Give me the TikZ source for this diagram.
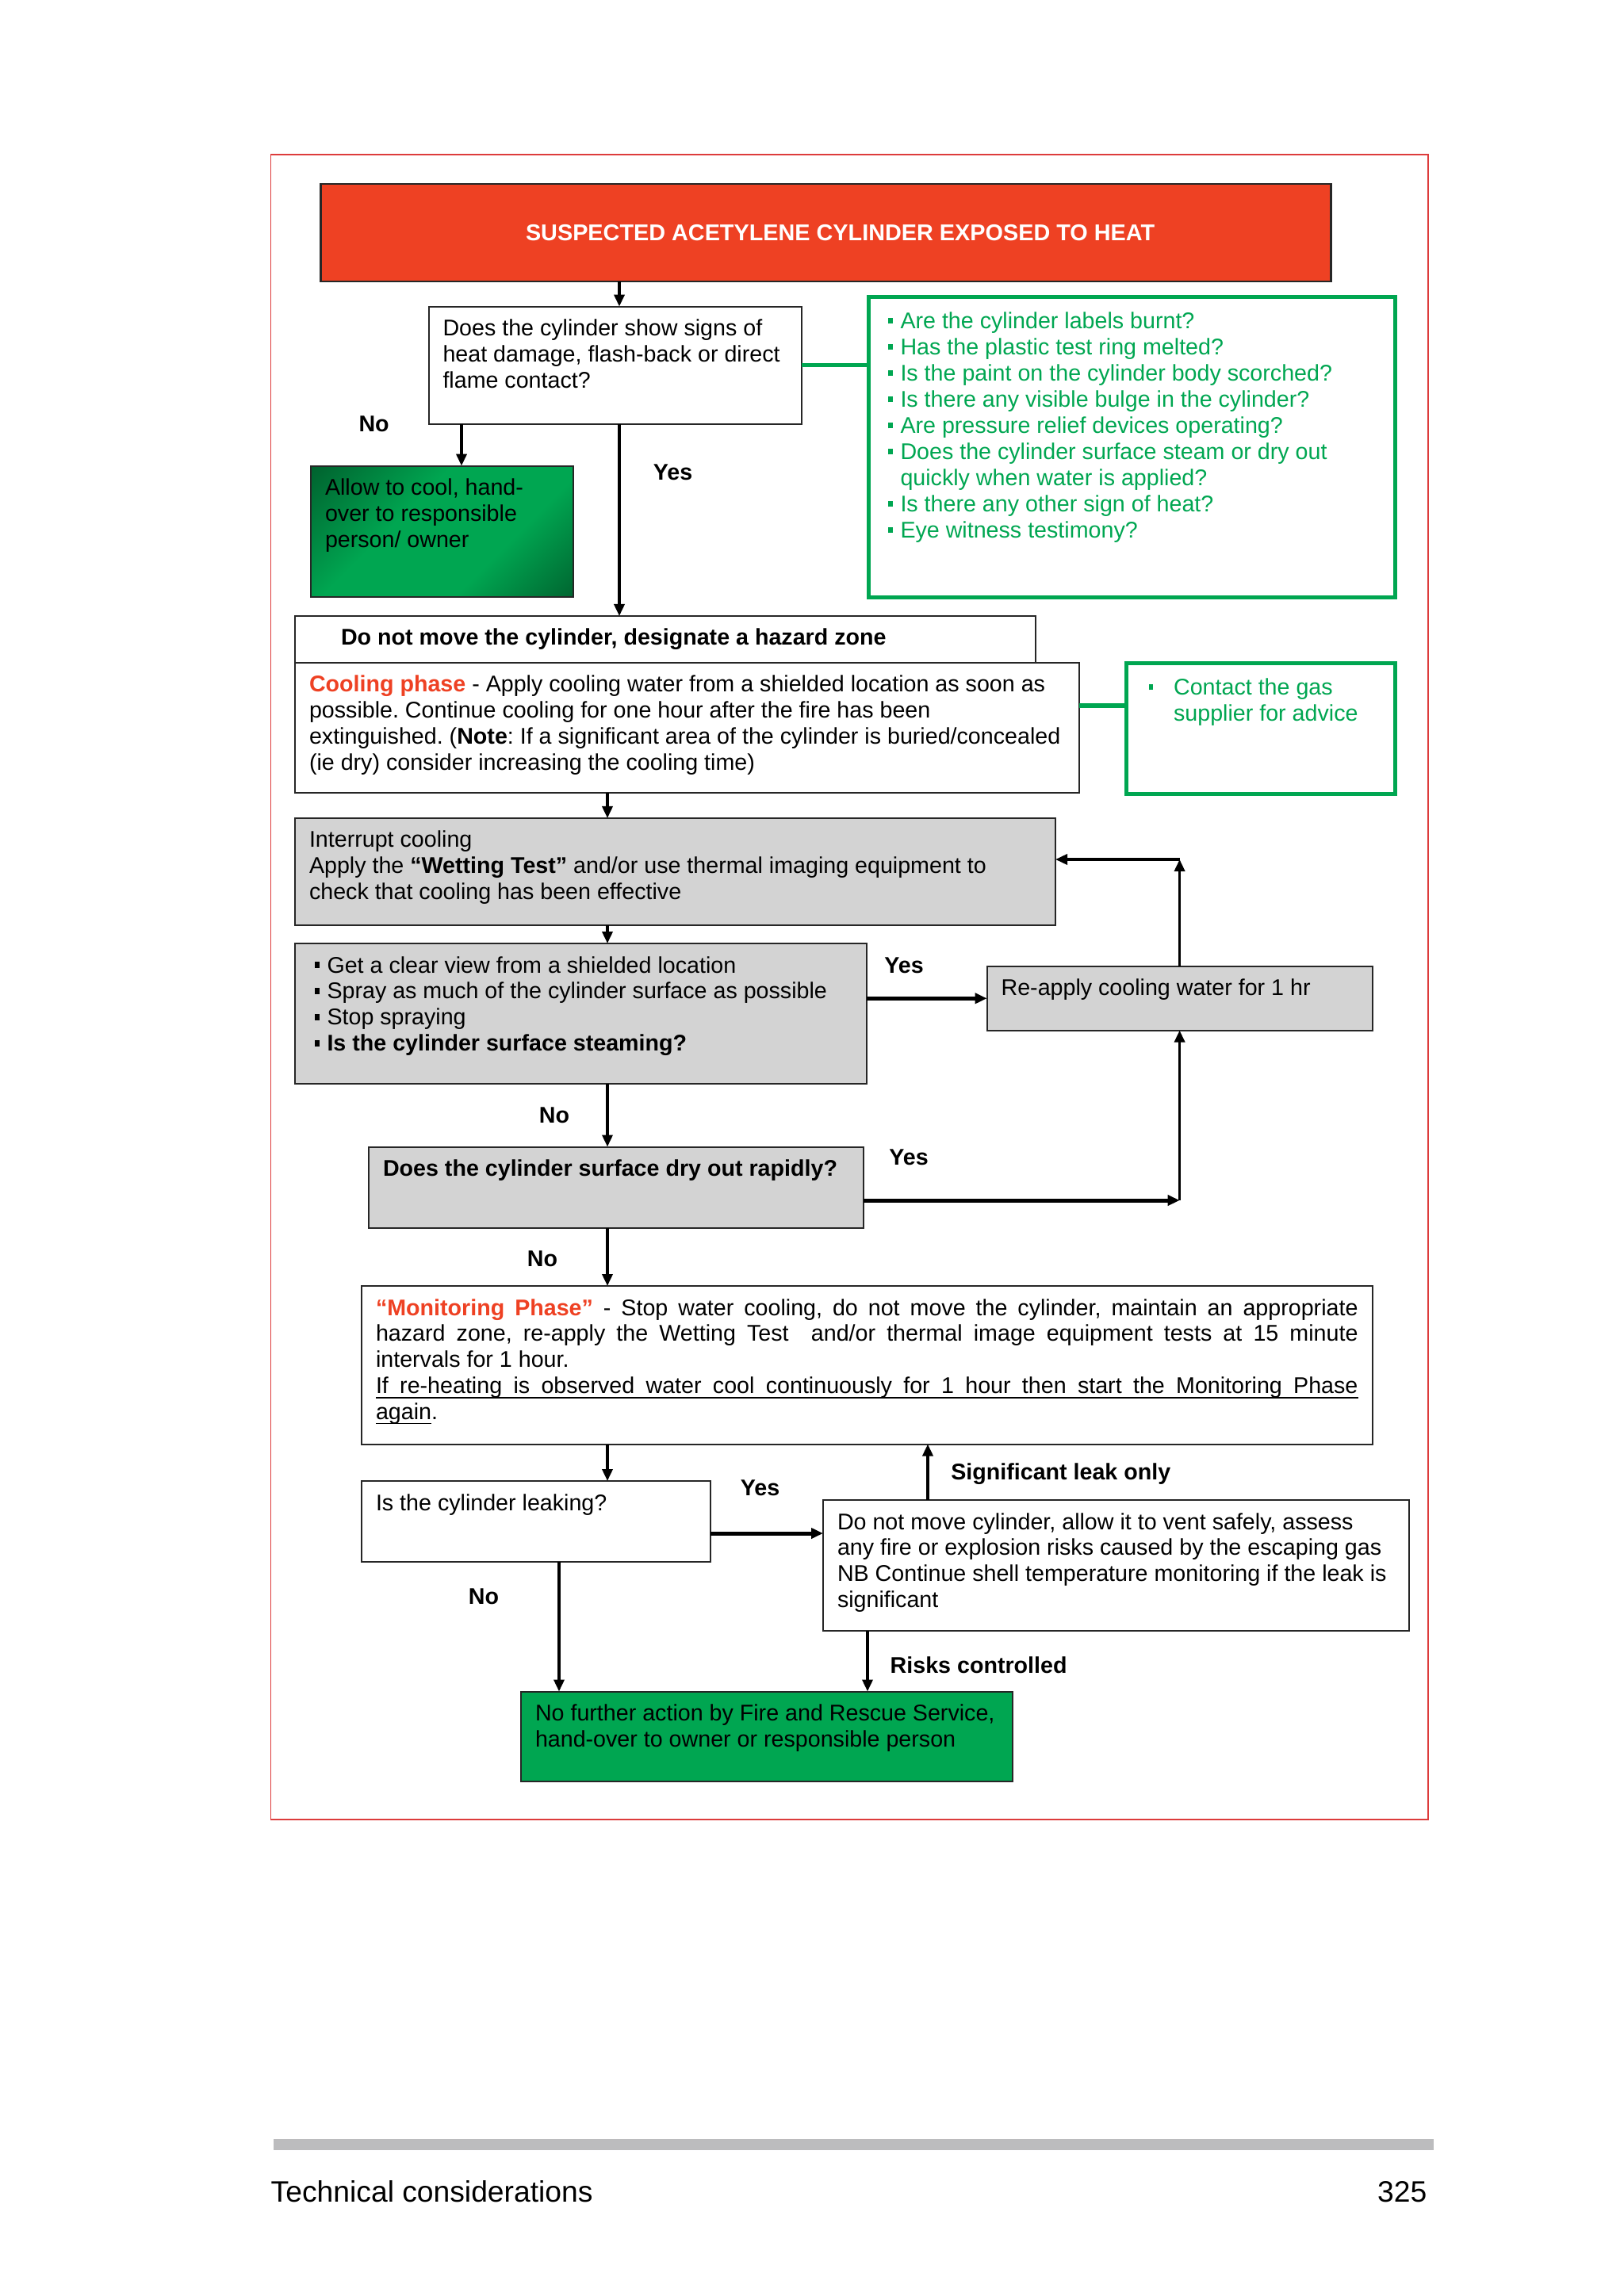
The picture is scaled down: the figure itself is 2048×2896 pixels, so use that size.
\documentclass[tikz,border=0pt]{standalone}
\usepackage{fontspec}
\setmainfont{Liberation Sans}
\usepackage{xcolor}
\usepackage{tikz}
\usetikzlibrary{positioning, arrows.meta, calc}
\definecolor{alertred}{RGB}{238,65,35}
\definecolor{safegreen}{RGB}{0,166,81}
\definecolor{deepgreen}{RGB}{0,58,26}
\definecolor{stepgrey}{RGB}{211,211,211}
\definecolor{framered}{RGB}{221,60,60}
\definecolor{footgrey}{RGB}{188,188,190}
\newcommand{\phaseword}[1]{{\color{alertred}\textbf{#1}}}
\newcommand{\sqb}{\hspace*{0.7mm}\rule[0.6mm]{0.55mm}{0.75mm}\hspace{1mm}}
\newcommand{\spreadline}[1]{\makebox[\linewidth][s]{#1}}
\pgfdeclarehorizontalshading{cornerfade}{100bp}{color(0bp)=(deepgreen); color(40bp)=(safegreen); color(64bp)=(safegreen); color(100bp)=(deepgreen)}
\tikzset{
    stepnode/.style   = {draw=black!85, line width=0.2mm, align=flush left, anchor=north west,
                         outer sep=0pt, inner xsep=1.8mm, inner ysep=1mm, text height=2.7mm,
                         font=\fontsize{8.15}{9.38}\selectfont},
    sized/.style 2 args = {text width=#1, text depth=#2},
    greynode/.style   = {stepnode, fill=stepgrey},
    checknode/.style  = {stepnode, draw=safegreen, line width=0.5mm, text=safegreen,
                         text height=2.95mm},
    shadenode/.style  = {stepnode, shade, shading=cornerfade, shading angle=-45},
    titlenode/.style  = {draw=black!85, line width=0.25mm, fill=alertred, text=white,
                         font=\fontsize{8.2}{9.38}\selectfont\bfseries, outer sep=0pt,
                         minimum width=127.4mm, minimum height=12.3mm, inner sep=0pt,
                         anchor=north west},
    flow/.style       = {line width=0.35mm, -{Triangle[length=1.5mm, width=1.3mm]}},
    flowthick/.style  = {flow, line width=0.5mm},
    greenedge/.style  = {safegreen, line width=0.55mm},
    answerlbl/.style  = {font=\fontsize{8.15}{9.38}\selectfont\bfseries, inner sep=0pt},
}
\frenchspacing
\begin{document}
\begin{tikzpicture}[x=0.1mm, y=-0.1mm]
\useasboundingbox (0,0) rectangle (2048,2896);

\draw[framered, line width=0.15mm] (341.5,195) rectangle (1801,2295);

\node[titlenode] (title) at (404.6,232)
    {\hspace*{3.6mm}SUSPECTED ACETYLENE CYLINDER EXPOSED TO HEAT};

\node[stepnode, below right=3.16mm and 13.59mm of title.south west, anchor=north west,
      sized={43.45mm}{10.11mm}] (q1)
    {Does the cylinder show signs of\\heat damage, flash-back or direct\\flame contact?};

\node[checknode, above right=1.16mm and 8.4mm of q1.north east, anchor=north west,
      sized={62.8mm}{32.95mm}] (checks)
    {\sqb Are the cylinder labels burnt?\\
     \sqb Has the plastic test ring melted?\\
     \sqb Is the paint on the cylinder body scorched?\\
     \sqb Is there any visible bulge in the cylinder?\\
     \sqb Are pressure relief devices operating?\\
     \sqb Does the cylinder surface steam or dry out\\
     \hspace*{2.25mm}quickly when water is applied?\\
     \sqb Is there any other sign of heat?\\
     \sqb Eye witness testimony?};

\node[shadenode, below left=5.29mm and 14.85mm of q1.south west, anchor=north west,
      sized={29.5mm}{11.84mm}] (allow)
    {Allow to cool, hand-\\over to responsible\\person/ owner};

\node[stepnode, below left=24.23mm and 16.85mm of q1.south west, anchor=north west,
      sized={89.8mm}{1.2mm}] (hazard)
    {\hspace*{4mm}\textbf{Do not move the cylinder, designate a hazard zone}};

\node[stepnode, below=0mm of hazard.south west, anchor=north west,
      sized={95.3mm}{11.74mm}] (cooling)
    {\phaseword{Cooling phase} - Apply cooling water from a shielded location as soon as\\
     possible. Continue cooling for one hour after the fire has been\\
     extinguished. (\textbf{Note}: If a significant area of the cylinder is buried/concealed\\
     (ie dry) consider increasing the cooling time)};

\node[checknode, below right=0.1mm and 5.96mm of cooling.north east, anchor=north west,
      sized={30.24mm}{11.55mm}] (contact)
    {\hspace*{0.3mm}\sqb\hspace{1.6mm}Contact the gas\\\hspace*{4.15mm}supplier for advice};

\node[greynode, below=3.16mm of cooling.south west, anchor=north west,
      sized={92.3mm}{8.75mm}] (interrupt)
    {Interrupt cooling\\
     Apply the \textbf{“Wetting Test”} and/or use thermal imaging equipment to\\
     check that cooling has been effective};

\node[greynode, below=2.35mm of interrupt.south west, anchor=north west,
      sized={68.45mm}{12.96mm}] (spray)
    {\sqb Get a clear view from a shielded location\\
     \sqb Spray as much of the cylinder surface as possible\\
     \sqb Stop spraying\\
     \textbf{\sqb Is the cylinder surface steaming?}};

\node[greynode, below right=2.9mm and 15.21mm of spray.north east, anchor=north west,
      sized={45mm}{3.36mm}] (reapply)
    {Re-apply cooling water for 1 hr};

\node[greynode, below right=7.99mm and 9.3mm of spray.south west, anchor=north west,
      sized={58.76mm}{5.53mm}] (dry)
    {\textbf{Does the cylinder surface dry out rapidly?}};

\node[stepnode, below left=7.32mm and 0.9mm of dry.south west, anchor=north west,
      sized={123.86mm}{15.25mm}] (monitor)
    {\spreadline{\phaseword{“Monitoring Phase”} - Stop water cooling, do not move the cylinder, maintain an appropriate}\\
     \spreadline{hazard zone, re-apply the Wetting Test\ \ and/or thermal image equipment tests at 15 minute}\\
     intervals for 1 hour.\\
     \underline{\smash{\spreadline{If re-heating is observed water cool continuously for 1 hour then start the Monitoring Phase}}}\\
     \underline{\smash{again}}.};

\node[stepnode, below=4.65mm of monitor.south west, anchor=north west,
      sized={40.4mm}{5.46mm}] (leak)
    {Is the cylinder leaking?};

\node[stepnode, below right=2.4mm and 14.2mm of leak.north east, anchor=north west,
      sized={70.25mm}{11.8mm}] (vent)
    {Do not move cylinder, allow it to vent safely, assess\\
     any fire or explosion risks caused by the escaping gas\\
     NB Continue shell temperature monitoring if the leak is\\
     significant};

\node[stepnode, fill=safegreen, below right=16.39mm and 20.1mm of leak.south west,
      anchor=north west, sized={58.4mm}{6.65mm}] (final)
    {No further action by Fire and Rescue Service,\\hand-over to owner or responsible person};

\coordinate (spineA) at (781,0);
\coordinate (spineB) at (766,0);
\coordinate (noleg) at (582,0);
\coordinate (loopturn) at (1488,1084);
\coordinate (dryturn) at (1488,1514);
\coordinate (ventrow) at (0,1934);
\coordinate (greenrow) at (0,890);
\coordinate (sigleg) at (1170,0);
\coordinate (leakleg) at (705,0);
\coordinate (riskleg) at (1094,0);

\draw[flow] (title.south -| spineA) -- (q1.north -| spineA);
\draw[flow] (q1.south -| noleg) -- (allow.north -| noleg);
\draw[flow] (q1.south -| spineA) -- (hazard.north -| spineA);
\draw[greenedge] (q1.east) -- (q1.east -| checks.west);
\draw[greenedge] (cooling.east |- greenrow) -- (contact.west |- greenrow);
\draw[flow] (cooling.south -| spineB) -- (interrupt.north -| spineB);
\draw[flow] (interrupt.south -| spineB) -- (spray.north -| spineB);
\draw[flowthick] (spray.east |- reapply.west) -- (reapply.west);
\draw[flow] (reapply.north) -- (reapply.north |- loopturn);
\draw[flow] (reapply.north |- loopturn) -- (interrupt.east |- loopturn);
\draw[flow] (spray.south -| spineB) -- (dry.north -| spineB);
\draw[flowthick] (dry.east |- dryturn) -- (reapply.south |- dryturn);
\draw[flow] (reapply.south |- dryturn) -- (reapply.south);
\draw[flow] (dry.south -| spineB) -- (monitor.north -| spineB);
\draw[flow] (monitor.south -| spineB) -- (leak.north -| spineB);
\draw[flowthick] (leak.east |- ventrow) -- (vent.west |- ventrow);
\draw[flow] (vent.north -| sigleg) -- (monitor.south -| sigleg);
\draw[flow] (leak.south -| leakleg) -- (final.north -| leakleg);
\draw[flow] (vent.south -| riskleg) -- (final.north -| riskleg);

\node[answerlbl] (noA) at (471.6,534.7) {No};
\node[answerlbl] (yesA) at (848.5,596) {Yes};
\node[answerlbl] (yesB) at (1140,1218) {Yes};
\node[answerlbl] (noB) at (699,1407) {No};
\node[answerlbl] (yesC) at (1146,1460) {Yes};
\node[answerlbl] (noC) at (684,1588) {No};
\node[answerlbl] (yesD) at (958.5,1876.8) {Yes};
\node[answerlbl, anchor=west] (sigleak) at (1198.6,1859) {Significant leak only};
\node[answerlbl] (noD) at (610,2014) {No};
\node[answerlbl, anchor=west] (riskok) at (1122,2100) {Risks controlled};

\fill[footgrey] (345,2698) rectangle (1808,2712);
\node[anchor=base west, inner sep=0pt, font=\fontsize{10.6}{12.7}\selectfont] (section)
    at (341,2777) {Technical considerations};
\node[anchor=base east, inner sep=0pt, font=\fontsize{10.6}{12.7}\selectfont] (pageno)
    at (1800,2777) {325};

\end{tikzpicture}
\end{document}
